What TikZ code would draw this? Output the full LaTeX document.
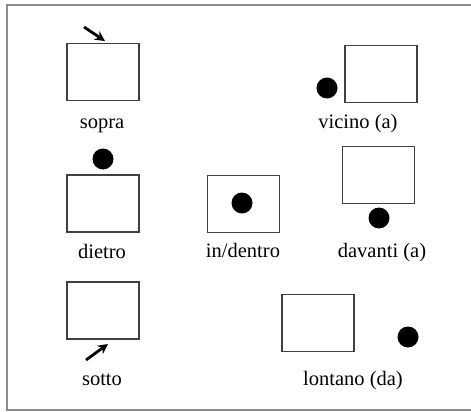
\documentclass[tikz,border=0pt]{standalone}
\usepackage{fontspec}
\setmainfont{Liberation Serif}
\usetikzlibrary{arrows.meta}
\tikzset{
  sq/.style={draw=black!75, line width=1.1pt, minimum width=72pt, minimum height=57pt, inner sep=0pt, outer sep=0pt},
  dot/.style={circle, fill=black, minimum size=21pt, inner sep=0pt},
  lbl/.style={anchor=base, inner sep=0pt, font=\fontsize{20.5}{24}\selectfont, text=black},
  arr/.style={line width=2.8pt, -{Stealth[length=10pt,width=10pt]}},
  frame/.style={draw=black!45, line width=1.5pt}
}
\begin{document}
\begin{tikzpicture}[x=1pt,y=-1pt]
\useasboundingbox (0,0) rectangle (471,412);
% frame (open on the right)
\coordinate (f1) at (471,5);
\coordinate (f2) at (7,5);
\coordinate (f3) at (7,410);
\coordinate (f4) at (471,410);
\draw[frame] (f1) -- (f2) -- (f3) -- (f4);

% sopra
\node[sq] (b1) at (103,72) {};
\coordinate (a1s) at (84,27);
\coordinate (a1e) at (105,41);
\draw[arr] (a1s) -- (a1e);
\node[lbl] (l1) at (102,128) {sopra};

% vicino
\node[sq] (b2) at (381,74) {};
\node[dot] (d2) at (327,88) {};
\node[lbl] (l2) at (358,128) {vicino (a)};

% dietro
\node[dot] (d3) at (103,159) {};
\node[sq] (b3) at (103,203.5) {};
\node[lbl] (l3) at (102,258) {dietro};

% in/dentro
\node[sq] (b4) at (243.5,204) {};
\node[dot] (d4) at (242,203) {};
\node[lbl] (l4) at (243,257) {in/dentro};

% davanti
\node[sq] (b5) at (378.5,175) {};
\node[dot] (d5) at (379,218) {};
\node[lbl] (l5) at (382,257) {davanti (a)};

% sotto
\node[sq] (b6) at (103,310.5) {};
\coordinate (a6s) at (86,360);
\coordinate (a6e) at (108,344);
\draw[arr] (a6s) -- (a6e);
\node[lbl] (l6) at (102,385) {sotto};

% lontano
\node[sq] (b7) at (318,323) {};
\node[dot] (d7) at (408,337) {};
\node[lbl] (l7) at (353,385) {lontano (da)};
\end{tikzpicture}
\end{document}
